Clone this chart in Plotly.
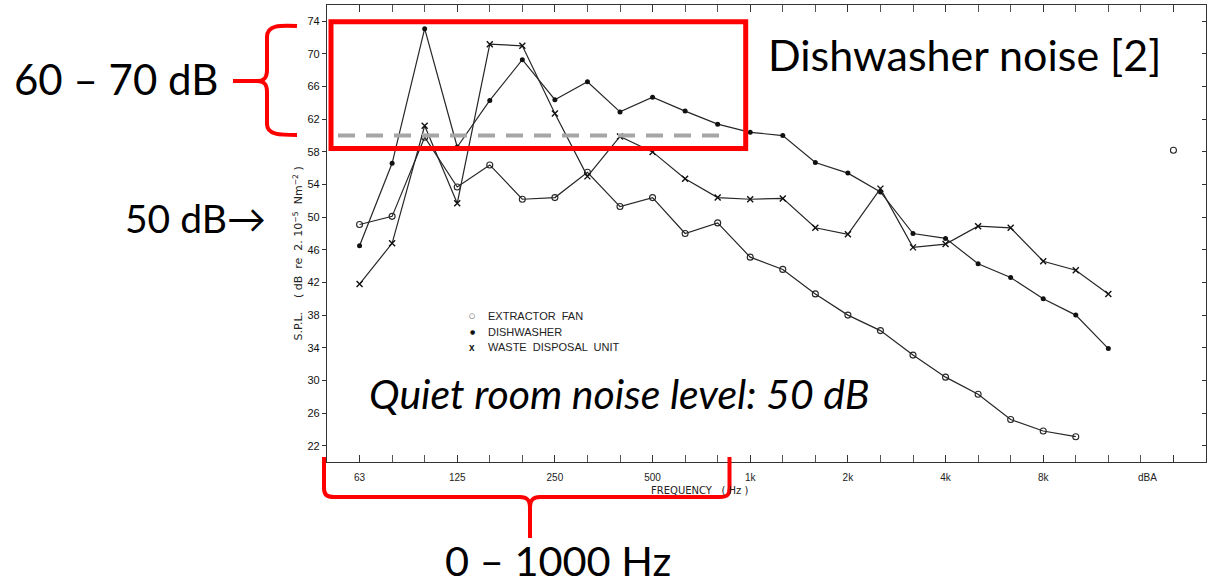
import plotly.graph_objects as go

# Third-octave band centres (Hz) plotted at equal spacing, then the overall dBA level
bands = ["63", "80", "100", "125", "160", "200", "250", "315", "400", "500", "630", "800",
         "1k", "1.25k", "1.6k", "2k", "2.5k", "3.15k", "4k", "5k", "6.3k", "8k", "10k", "12.5k"]
octave_labels = ["63", "125", "250", "500", "1k", "2k", "4k", "8k"]
dba_slot = 25

# Sound pressure level, dB re 2·10^-5 N/m^2
extractor_fan = [49.1, 50.1, 59.8, 53.7, 56.4, 52.2, 52.4, 55.5, 51.3, 52.4, 48.0, 49.3,
                 45.1, 43.6, 40.6, 38.0, 36.1, 33.1, 30.4, 28.3, 25.2, 23.8, 23.1]
dishwasher = [46.5, 56.6, 73.1, 58.6, 64.3, 69.3, 64.4, 66.6, 62.9, 64.7, 63.0, 61.4,
              60.4, 60.0, 56.7, 55.4, 53.1, 48.0, 47.4, 44.3, 42.6, 40.0, 38.0, 33.9]
waste_disposal = [41.8, 46.8, 61.2, 51.7, 71.2, 71.0, 62.7, 55.0, 59.9, 58.0, 54.7, 52.4,
                  52.2, 52.3, 48.7, 47.9, 53.5, 46.3, 46.7, 48.9, 48.7, 44.6, 43.5, 40.6]
extractor_fan_dba = [58.2]

y_ticks = list(range(22, 75, 4))
threshold_db = 60

# ---- page geometry (pixels) -------------------------------------------------
W, H = 1211, 583
ML, MR, MT, MB = 327, 5, 5, 121
PW, PH = W - ML - MR, H - MT - MB


def px(x):
    return (x - ML) / PW


def py(y):
    return (H - MB - y) / PH


def path(cmds):
    """Build an SVG path in paper units from pixel-space commands."""
    out = []
    for c in cmds:
        op, pts = c[0], c[1:]
        out.append(op + " " + " ".join(f"{px(a):.5f},{py(b):.5f}" for a, b in pts))
    return " ".join(out)


INK = "#262626"
RED = "#FF0000"

fig = go.Figure()

band_pos = list(range(len(bands)))
fig.add_trace(go.Scatter(
    x=band_pos[:len(extractor_fan)], y=extractor_fan, mode="lines+markers",
    line=dict(color=INK, width=1.2),
    marker=dict(symbol="circle-open", size=6, color=INK, line=dict(width=1.1)),
    showlegend=False))
fig.add_trace(go.Scatter(
    x=band_pos[:len(dishwasher)], y=dishwasher, mode="lines+markers",
    line=dict(color=INK, width=1.2),
    marker=dict(symbol="circle", size=5, color="#111"),
    showlegend=False))
fig.add_trace(go.Scatter(
    x=band_pos[:len(waste_disposal)], y=waste_disposal, mode="lines+markers",
    line=dict(color=INK, width=1.2),
    marker=dict(symbol="x-thin-open", size=6, color="#111", line=dict(width=1.4)),
    showlegend=False))
fig.add_trace(go.Scatter(
    x=[dba_slot], y=extractor_fan_dba, mode="markers",
    marker=dict(symbol="circle-open", size=6, color=INK, line=dict(width=1.1)),
    showlegend=False))
# carrier for the right-hand (inside) tick marks
fig.add_trace(go.Scatter(x=[None], y=[None], yaxis="y2", showlegend=False, hoverinfo="skip"))

shapes = [
    # 60 dB reference (dashed)
    dict(type="line", xref="paper", yref="y", x0=px(338), x1=px(725),
         y0=threshold_db, y1=threshold_db,
         line=dict(color="#A6A6A6", width=4, dash="17px,11px"), layer="above"),
    # highlighted region
    dict(type="rect", xref="paper", yref="paper", x0=px(331), x1=px(745.7),
         y0=py(148.4), y1=py(21.7), line=dict(color=RED, width=5), layer="above"),
    # left brace
    dict(type="path", xref="paper", yref="paper", layer="above",
         line=dict(color=RED, width=4),
         path=path([("M", (297, 26)), ("C", (280, 25), (267, 25), (267, 37)),
                    ("L", (267, 70)), ("C", (267, 78), (264, 81), (257, 81)),
                    ("L", (233, 81)), ("M", (257, 81)),
                    ("C", (264, 81), (267, 84), (267, 92)), ("L", (267, 124)),
                    ("C", (267, 135), (280, 135), (297, 135))])),
    # bottom brace
    dict(type="path", xref="paper", yref="paper", layer="above",
         line=dict(color=RED, width=4),
         path=path([("M", (324, 457)), ("L", (324, 488)),
                    ("C", (324, 495), (327, 497), (334, 497)), ("L", (520, 497)),
                    ("C", (527, 497), (530, 500), (530, 508)), ("L", (530, 538)),
                    ("M", (530, 508)), ("C", (530, 500), (533, 497), (540, 497)),
                    ("L", (720, 497)), ("C", (727, 497), (729.5, 495), (729.5, 488)),
                    ("L", (729.5, 457))])),
]


def big(size):
    return dict(family="Lato", size=size, color="black")


SMALL = dict(family="DejaVu Sans", size=10, color="#222")
LEG = dict(family="Liberation Sans", size=11, color="#222")

annotations = [
    dict(text="60 – 70 dB", x=px(12), y=py(78.5), xanchor="left", yanchor="middle", font=big(42)),
    dict(text="50 dB→", x=px(123), y=py(218), xanchor="left", yanchor="middle", font=big(39)),
    dict(text="Dishwasher noise [2]", x=px(766), y=py(54.5), xanchor="left", yanchor="middle",
         font=big(43)),
    dict(text="<i>Quiet room noise level: 50 dB</i>", x=px(367), y=py(393.5),
         xanchor="left", yanchor="middle", font=big(41)),
    dict(text="0 – 1000 Hz", x=px(443), y=py(559.5), xanchor="left", yanchor="middle",
         height=44, valign="middle", font=big(41.5)),
    # axis titles
    dict(text="S.P.L.    ( dB  re  2. 10<sup>−5</sup>  Nm<sup>−2</sup> )", textangle=-90,
         x=px(297.5), y=py(254), xanchor="center", yanchor="middle",
         font=dict(family="DejaVu Sans", size=11, color="#222")),
    dict(text="FREQUENCY   ( Hz )", x=px(699), y=py(491), xanchor="center", yanchor="middle",
         font=SMALL),
    dict(text="dBA", x=px(1147), y=py(477.7), xanchor="center", yanchor="middle",
         font=dict(family="Liberation Sans", size=10, color="#222")),
    # key
    dict(text="○", x=px(472), y=py(316), xanchor="center", yanchor="middle",
         font=dict(family="DejaVu Sans", size=7, color="#222")),
    dict(text="●", x=px(472), y=py(331.7), xanchor="center", yanchor="middle",
         font=dict(family="DejaVu Sans", size=6, color="#111")),
    dict(text="<b>x</b>", x=px(472), y=py(347.3), xanchor="center", yanchor="middle",
         font=dict(family="Liberation Sans", size=10, color="#111")),
    dict(text="EXTRACTOR  FAN", x=px(486), y=py(316), xanchor="left", yanchor="middle", font=LEG),
    dict(text="DISHWASHER", x=px(486), y=py(331.7), xanchor="left", yanchor="middle", font=LEG),
    dict(text="WASTE  DISPOSAL  UNIT", x=px(486), y=py(347.3), xanchor="left", yanchor="middle",
         font=LEG),
]
for a in annotations:
    a.update(xref="paper", yref="paper", showarrow=False)

fig.update_layout(
    width=W, height=H,
    margin=dict(l=ML, r=MR, t=MT, b=MB, pad=0),
    paper_bgcolor="white", plot_bgcolor="white",
    xaxis=dict(
        range=[-1, 26], showgrid=False, zeroline=False,
        showline=True, linecolor="#333", linewidth=1.3, mirror="allticks",
        ticks="inside", ticklen=7, tickwidth=1.3, tickcolor="#333",
        tickmode="array",
        tickvals=[0, 3, 6, 9, 12, 15, 18, 21, dba_slot],
        ticktext=octave_labels + [""],
        tickfont=dict(family="Liberation Sans", size=10, color="#222"),
        ticklabelstandoff=6,
        minor=dict(dtick=1, tick0=0, ticks="inside", ticklen=3, tickwidth=1, tickcolor="#555"),
    ),
    yaxis=dict(
        range=[20, 76], showgrid=False, zeroline=False,
        showline=True, linecolor="#333", linewidth=1.3, mirror=True,
        ticks="outside", ticklen=4, tickwidth=1.3, tickcolor="#333",
        tickmode="array", tickvals=y_ticks,
        tickfont=dict(family="Liberation Sans", size=11, color="#111"),
    ),
    yaxis2=dict(
        range=[20, 76], overlaying="y", side="right", showgrid=False, zeroline=False,
        showline=False, ticks="inside", ticklen=4, tickwidth=1.2, tickcolor="#333",
        tickmode="array", tickvals=y_ticks, showticklabels=False,
    ),
    shapes=shapes,
    annotations=annotations,
    showlegend=False,
)

fig.write_html("out.html")
